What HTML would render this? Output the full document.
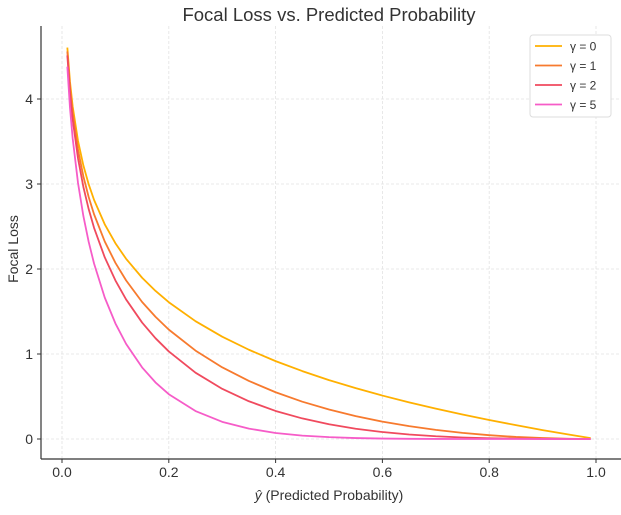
<!DOCTYPE html>
<html><head><meta charset="utf-8"><style>
body{margin:0;background:#fff}
svg text{font-family:"Liberation Sans","DejaVu Sans",sans-serif;fill:#333}
</style></head><body>
<svg id="chart" width="621" height="510" viewBox="0 0 621 510" xmlns="http://www.w3.org/2000/svg">
<text x="329" y="21" font-size="18.5" text-anchor="middle">Focal Loss vs. Predicted Probability</text>
<g id="grid"></g><g id="axes"></g><g id="series"></g>
<text x="329" y="500" font-size="14" text-anchor="middle"><tspan font-style="italic">ŷ</tspan> (Predicted Probability)</text>
<text x="18" y="249" font-size="14" text-anchor="middle" transform="rotate(-90 18 249)">Focal Loss</text>
<g>
<rect x="530" y="35" width="81" height="82" rx="3" fill="#fff" stroke="#ddd"/>
<g id="legend-items"></g>
</g>
</svg>
<script>
const probs=[0.01,0.015,0.02,0.03,0.04,0.05,0.06,0.08,0.1,0.12,0.15,0.175,0.2,0.25,0.3,0.35,0.4,0.45,0.5,0.55,0.6,0.65,0.7,0.75,0.8,0.85,0.9,0.95,0.99];
const loss0=[4.605,4.200,3.912,3.507,3.219,2.996,2.813,2.526,2.303,2.120,1.897,1.743,1.609,1.386,1.204,1.050,0.916,0.799,0.693,0.598,0.511,0.431,0.357,0.288,0.223,0.163,0.105,0.051,0.010];
const loss1=[4.559,4.137,3.834,3.402,3.090,2.846,2.644,2.324,2.073,1.866,1.612,1.438,1.287,1.040,0.843,0.683,0.550,0.439,0.347,0.269,0.204,0.151,0.107,0.072,0.045,0.024,0.011,0.003,0.000];
const loss2=[4.513,4.075,3.757,3.300,2.966,2.704,2.485,2.138,1.866,1.642,1.370,1.186,1.030,0.780,0.590,0.444,0.330,0.242,0.173,0.121,0.082,0.053,0.032,0.018,0.009,0.004,0.001,0.000,0.000];
const loss5=[4.380,3.893,3.536,3.012,2.624,2.318,2.065,1.665,1.360,1.119,0.842,0.666,0.527,0.329,0.202,0.122,0.071,0.040,0.022,0.011,0.005,0.002,0.001,0.000,0.000,0.000,0.000,0.000,0.000];
const seriesLabels=["γ = 0","γ = 1","γ = 2","γ = 5"];
const seriesColors=["#FFB000","#F77A2E","#F04A5E","#F65CC8"];
const xTicks=[0,0.2,0.4,0.6,0.8,1.0];
const xTickLabels=["0.0","0.2","0.4","0.6","0.8","1.0"];
const yTicks=[0,1,2,3,4];
const NS="http://www.w3.org/2000/svg";
const X=v=>62+v*534, Y=v=>439-v*85;
const L=41,R=621,T=26,B=459;
function mk(tag,at,parent){const e=document.createElementNS(NS,tag);for(const k in at)e.setAttribute(k,at[k]);parent.appendChild(e);return e;}
const grid=document.getElementById('grid'),axes=document.getElementById('axes'),ser=document.getElementById('series');
xTicks.forEach((t,i)=>{
 const g=mk('line',{x1:X(t),x2:X(t),y1:T,y2:B,stroke:'#e2e2e2','stroke-width':0.8,'stroke-dasharray':'3,2'},grid);
 
 
 mk('line',{x1:X(t),x2:X(t),y1:B,y2:B+4,stroke:'#333'},axes);
 const tx=mk('text',{x:X(t),y:B+18,'font-size':14,'text-anchor':'middle'},axes);
 tx.textContent=xTickLabels[i];
 
 
});
yTicks.forEach(t=>{
 const g=mk('line',{x1:L,x2:R,y1:Y(t),y2:Y(t),stroke:'#e2e2e2','stroke-width':0.8,'stroke-dasharray':'3,2'},grid);
 
 
 mk('line',{x1:L-4,x2:L,y1:Y(t),y2:Y(t),stroke:'#333'},axes);
 const tx=mk('text',{x:L-8,y:Y(t)+5,'font-size':14,'text-anchor':'end'},axes);
 tx.textContent=String(t);
 
 
});
mk('line',{x1:L,x2:L,y1:T,y2:B,stroke:'#333','stroke-width':1.2},axes);
mk('line',{x1:L,x2:R,y1:B,y2:B,stroke:'#333','stroke-width':1.2},axes);
const allSeries=[loss0,loss1,loss2,loss5];
allSeries.forEach((s,k)=>{
 const pts=probs.map((p,i)=>X(p)+','+Y(s[i])).join(' ');
 const pl=mk('polyline',{points:pts,fill:'none',stroke:seriesColors[k],'stroke-width':1.8,'stroke-linejoin':'round'},ser);
 
 
});
const li=document.getElementById('legend-items');
seriesLabels.forEach((lab,k)=>{
 const y=46+k*19.5;
 mk('line',{x1:535,x2:562,y1:y,y2:y,stroke:seriesColors[k],'stroke-width':1.8},li);
 const tx=mk('text',{x:570,y:y+4.5,'font-size':12},li);
 tx.textContent=lab;
 
 
});
</script>
</body></html>
